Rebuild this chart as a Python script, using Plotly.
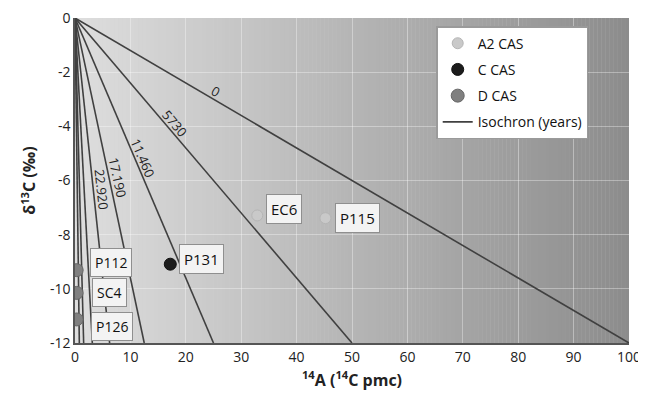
import plotly.graph_objects as go
import math

# ---------------- data ----------------
iso_ends = [100, 50, 25, 12.5, 6.25, 3.125, 1.5625, 0.78125]
iso_labels = ["0", "5730", "11.460", "17.190", "22.920", "", "", ""]
iso_label_y = [-2.95, -4.09, -5.27, -5.95, -6.36, None, None, None]

a2_names = ["EC6", "P115"]
a2_x = [32.9, 45.2]
a2_y = [-7.29, -7.39]

c_names = ["P131"]
c_x = [17.2]
c_y = [-9.09]

d_names = ["P112", "SC4", "P126"]
d_x = [0.3, 0.3, 0.3]
d_y = [-9.31, -10.15, -11.13]

x_ticks = list(range(0, 101, 10))
y_ticks = list(range(-12, 1, 2))
y_ticktext = [str(v) for v in y_ticks]

# ---------------- geometry / style ----------------
# page body has an 8px margin, so the figure is drawn 8px in from the corner
W, H = 638, 386
ML, MR, MT, MB = 67, 17, 10, 51
PW, PH = W - ML - MR, H - MT - MB
XMIN, XMAX, YMIN, YMAX = 0, 100, -12, 0
FONT = "Open Sans"
LINE_COL = "#404040"

fig = go.Figure()

# gradient background strips
n = 140
shapes = []
for i in range(n):
    x0 = XMIN + (XMAX - XMIN) * i / n
    x1 = XMIN + (XMAX - XMIN) * (i + 1) / n
    t = (i + 0.5) / n
    v = int(round(222 - (222 - 140) * t))
    shapes.append(dict(type="rect", xref="x", yref="y", x0=x0, x1=x1 + 0.05,
                       y0=YMIN, y1=YMAX, layer="below", line=dict(width=0),
                       fillcolor=f"rgb({v},{v},{v})"))

# isochron lines
for k, e in enumerate(iso_ends):
    fig.add_trace(go.Scatter(x=[0, e], y=[0, -12], mode="lines",
                             line=dict(color=LINE_COL, width=1.6),
                             name="Isochron (years)", legendgroup="iso",
                             showlegend=(k == 0), legendrank=4,
                             hoverinfo="skip"))

annotations = []
sx = PW / (XMAX - XMIN)
sy = PH / (YMAX - YMIN)
for e, lab, ly in zip(iso_ends, iso_labels, iso_label_y):
    if not lab:
        continue
    ang = math.degrees(math.atan2(12 * sy, e * sx))
    lx = e * ly / -12
    off = 8
    annotations.append(dict(x=lx, y=ly, xref="x", yref="y", text=lab,
                            showarrow=False, textangle=ang,
                            xshift=off * math.sin(math.radians(ang)),
                            yshift=off * math.cos(math.radians(ang)),
                            font=dict(family=FONT, size=13, color="#222")))

# sample markers
fig.add_trace(go.Scatter(x=a2_x, y=a2_y, mode="markers", name="A2 CAS",
                         marker=dict(size=11, color="#c9c9c9",
                                     line=dict(color="#b5b5b5", width=1)),
                         legendgroup="a2", legendrank=1))
fig.add_trace(go.Scatter(x=c_x, y=c_y, mode="markers", name="C CAS",
                         marker=dict(size=12, color="#1c1c1c",
                                     line=dict(color="#111", width=1)),
                         legendgroup="c", legendrank=2))
fig.add_trace(go.Scatter(x=d_x, y=d_y, mode="markers", name="D CAS",
                         marker=dict(size=13, color="#808080",
                                     line=dict(color="#666", width=1)),
                         legendgroup="d", legendrank=3))

# point label boxes (style offsets in px)
label_style = {
    "EC6": (9, 6, 15), "P115": (10, 0, 15), "P131": (9, 5, 15),
    "P112": (13, 8, 14), "SC4": (15, 0, 14), "P126": (14, -7, 14),
}
for names, xs, ys in [(a2_names, a2_x, a2_y), (c_names, c_x, c_y), (d_names, d_x, d_y)]:
    for nm, x, y in zip(names, xs, ys):
        dx, dy, fs = label_style[nm]
        annotations.append(dict(x=x, y=y, xref="x", yref="y", text=nm,
                                showarrow=False, xanchor="left", yanchor="middle",
                                xshift=dx, yshift=dy,
                                bgcolor="#f3f3f3", bordercolor="#8f8f8f",
                                borderwidth=1, borderpad=4,
                                font=dict(family=FONT, size=fs, color="#111")))

fig.update_layout(
    width=W, height=H,
    margin=dict(l=ML, r=MR, t=MT, b=MB, pad=0, autoexpand=False),
    paper_bgcolor="white", plot_bgcolor="#d0d0d0",
    font=dict(family=FONT, size=14, color="#222"),
    shapes=shapes, annotations=annotations,
    showlegend=True,
    legend=dict(x=0.652, y=0.975, xanchor="left", yanchor="top",
                bgcolor="white", bordercolor="#9a9a9a", borderwidth=1.5,
                font=dict(family=FONT, size=14, color="#111"),
                traceorder="grouped", tracegroupgap=5,
                itemwidth=30),
    xaxis=dict(range=[XMIN, XMAX], tickvals=x_ticks, showgrid=True,
               gridcolor="rgba(255,255,255,0.35)", gridwidth=1,
               zeroline=False, showline=True, linecolor="#555", linewidth=1.5,
               ticks="", tickfont=dict(size=14), automargin=False,
               ticklabeloverflow="allow",
               title=dict(text="<b><sup>14</sup>A (<sup>14</sup>C pmc)</b>",
                          font=dict(size=16), standoff=10)),
    yaxis=dict(range=[YMIN, YMAX], tickvals=y_ticks, ticktext=y_ticktext,
               showgrid=True,
               gridcolor="rgba(255,255,255,0.35)", gridwidth=1,
               zeroline=False, showline=True, linecolor="#555", linewidth=1.5,
               ticks="", tickfont=dict(size=14), automargin=False,
               ticklabeloverflow="allow",
               title=dict(text="<b>δ<sup>13</sup>C (‰)</b>",
                          font=dict(size=16), standoff=10)),
)

fig.write_html("out.html")
